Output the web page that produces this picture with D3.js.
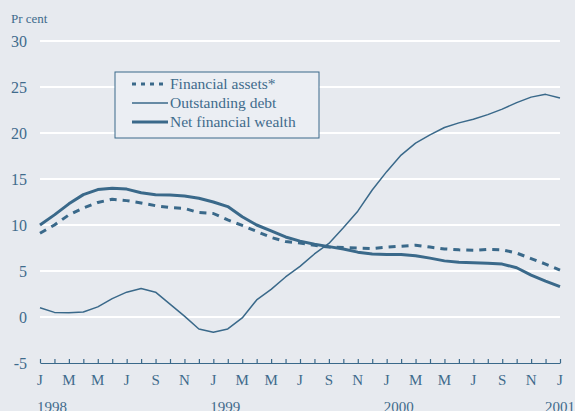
<!DOCTYPE html>
<html>
<head>
<meta charset="utf-8">
<script src="https://cdn.jsdelivr.net/npm/d3@7"></script>
<style>
  body { margin: 0; background: #e7eaef; }
  svg { display: block; }
  text { font-family: "Liberation Serif", "Times New Roman", serif; fill: #3f6b8c; }
</style>
</head>
<body>
<div id="chart"></div>
<script>
var width = 575;
var height = 411;
var lineColor = "#3a698a";

// monthly data, Jan 1998 .. Jan 2001
var monthLabels = ["J", "M", "M", "J", "S", "N"];
var yearLabels = ["1998", "1999", "2000", "2001"];
var yTicks = [-5, 0, 5, 10, 15, 20, 25, 30];

var assets = [9.1, 10.0, 11.1, 11.85, 12.45, 12.8, 12.65, 12.4, 12.1, 11.9, 11.8, 11.35,
    11.25, 10.55, 9.95, 9.3, 8.65, 8.2, 8.05, 7.8, 7.6, 7.55, 7.5, 7.45,
    7.6, 7.7, 7.8, 7.6, 7.4, 7.3, 7.25, 7.35, 7.3, 6.95, 6.35, 5.75, 5.1];
var debt = [1.0, 0.5, 0.45, 0.55, 1.1, 2.0, 2.7, 3.1, 2.7, 1.4, 0.1, -1.3,
    -1.65, -1.3, -0.1, 1.85, 3.0, 4.35, 5.5, 6.85, 8.0, 9.7, 11.5, 13.8,
    15.8, 17.6, 18.9, 19.8, 20.6, 21.1, 21.5, 22.0, 22.6, 23.3, 23.9, 24.2, 23.8];
var wealth = [10.0, 11.1, 12.3, 13.3, 13.85, 14.0, 13.9, 13.5, 13.3, 13.25, 13.15, 12.9,
    12.5, 12.0, 10.9, 10.0, 9.35, 8.7, 8.25, 7.9, 7.65, 7.4, 7.05, 6.85,
    6.8, 6.8, 6.65, 6.4, 6.1, 5.95, 5.9, 5.85, 5.75, 5.35, 4.55, 3.9, 3.3];

var series = [
    {name: "Financial assets*", values: assets, width: 3, dash: "7,6"},
    {name: "Outstanding debt", values: debt, width: 1.5, dash: null},
    {name: "Net financial wealth", values: wealth, width: 3, dash: null}
];

var svg = d3.select("#chart")
    .append("svg")
    .attr("width", width)
    .attr("height", height);

svg.append("rect")
    .attr("width", width)
    .attr("height", height)
    .attr("fill", "#e7eaef");

var xScale = d3.scaleLinear()
    .domain([0, 36])
    .range([40, 560]);

var yScale = d3.scaleLinear()
    .domain([-5, 30])
    .range([363, 41]);

// grid lines
svg.append("g")
    .selectAll("line")
    .data(yTicks.filter(function(d) { return d > -5; }))
    .enter()
    .append("line")
    .attr("x1", xScale(0))
    .attr("x2", xScale(36))
    .attr("y1", function(d) { return yScale(d); })
    .attr("y2", function(d) { return yScale(d); })
    .attr("stroke", "#ffffff")
    .attr("stroke-width", 2);

// y labels
svg.append("g")
    .selectAll("text")
    .data(yTicks)
    .enter()
    .append("text")
    .attr("x", 27)
    .attr("y", function(d) { return yScale(d) + 6; })
    .attr("text-anchor", "end")
    .attr("font-size", 16)
    .text(function(d) { return d; });

svg.append("text")
    .attr("x", 11)
    .attr("y", 23)
    .attr("font-size", 13)
    .text("Pr cent");

// x axis with monthly ticks pointing up
var xAxis = d3.axisTop(xScale)
    .tickValues(d3.range(0, 37))
    .tickSize(4)
    .tickSizeOuter(0)
    .tickFormat("");

var axisG = svg.append("g")
    .attr("transform", "translate(0," + yScale(-5) + ")")
    .call(xAxis);
axisG.selectAll("path, line")
    .attr("stroke", lineColor)
    .attr("stroke-width", 1.2);

svg.append("g")
    .selectAll("text")
    .data(d3.range(0, 37, 2))
    .enter()
    .append("text")
    .attr("x", function(d) { return xScale(d); })
    .attr("y", 385)
    .attr("text-anchor", "middle")
    .attr("font-size", 15)
    .text(function(d) { return monthLabels[(d % 12) / 2]; });

// year labels sit partly below the bottom edge, as in the original
svg.append("g")
    .selectAll("text")
    .data(yearLabels)
    .enter()
    .append("text")
    .attr("x", function(d, i) { return i < 3 ? xScale(i * 12) - 3 : 545; })
    .attr("y", 412)
    .attr("font-size", 15)
    .text(function(d) { return d; });

// lines
var line = d3.line()
    .x(function(d, i) { return xScale(i); })
    .y(function(d) { return yScale(d); });

svg.append("g")
    .selectAll("path")
    .data(series)
    .enter()
    .append("path")
    .attr("d", function(d) { return line(d.values); })
    .attr("fill", "none")
    .attr("stroke", lineColor)
    .attr("stroke-width", function(d) { return d.width; })
    .attr("stroke-dasharray", function(d) { return d.dash; })
    .attr("stroke-linejoin", "round");

// legend
var legend = svg.append("g");
legend.append("rect")
    .attr("x", 115)
    .attr("y", 72)
    .attr("width", 204)
    .attr("height", 66)
    .attr("fill", "#ebeef3")
    .attr("stroke", lineColor)
    .attr("stroke-width", 1);

var rows = legend.selectAll("g.row")
    .data(series)
    .enter()
    .append("g")
    .attr("class", "row")
    .attr("transform", function(d, i) { return "translate(0," + (89 + i * 19) + ")"; });

rows.append("line")
    .attr("x1", 132)
    .attr("x2", 168)
    .attr("y1", -5)
    .attr("y2", -5)
    .attr("stroke", lineColor)
    .attr("stroke-width", function(d) { return d.width; })
    .attr("stroke-dasharray", function(d) { return d.dash ? "4,5" : null; });

rows.append("text")
    .attr("x", 170)
    .attr("y", 0)
    .attr("font-size", 15.5)
    .text(function(d) { return d.name; });
</script>
</body>
</html>
